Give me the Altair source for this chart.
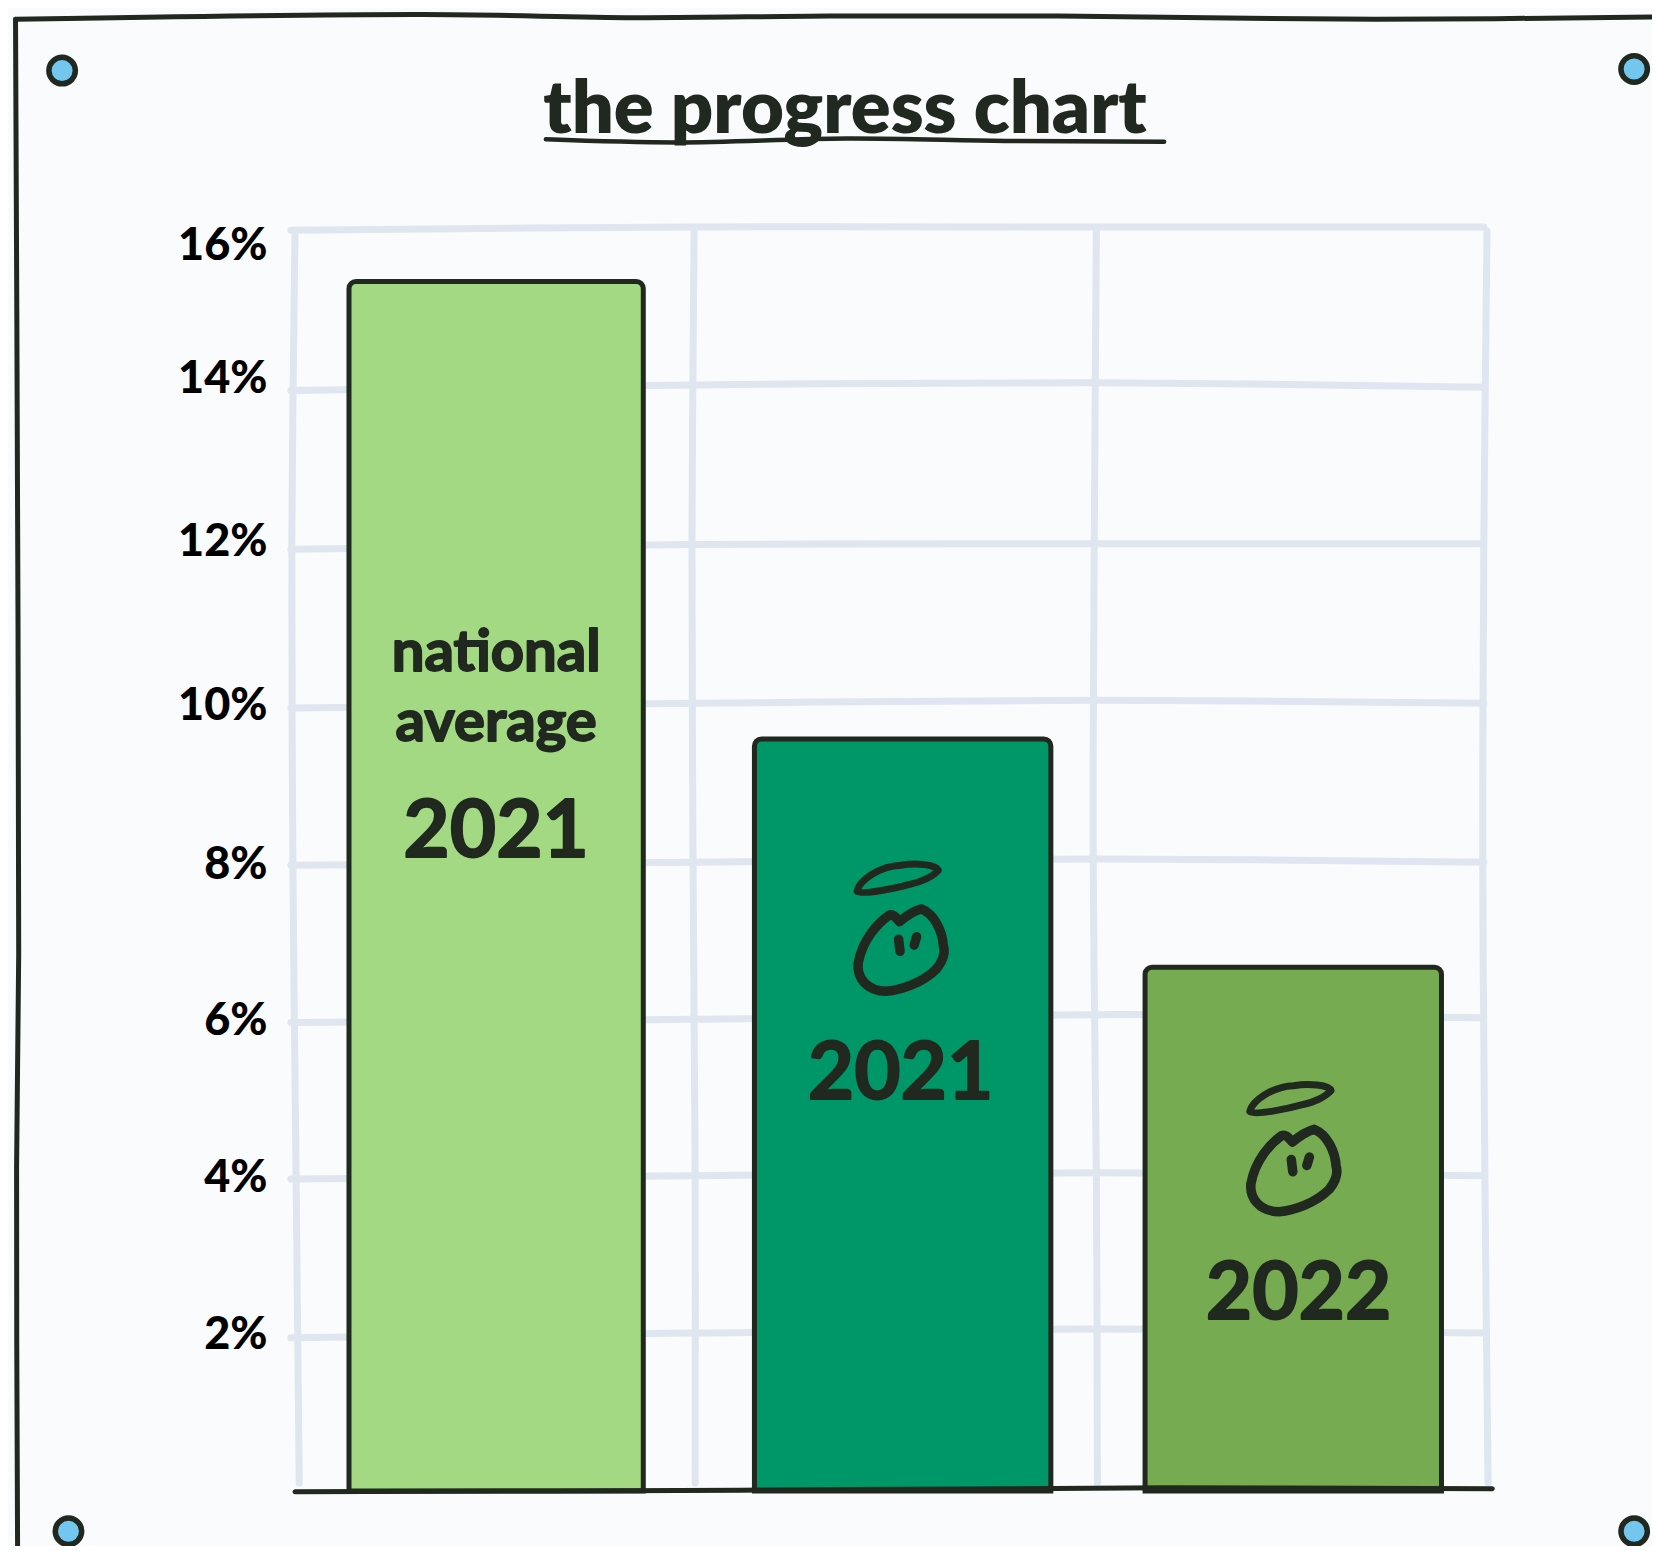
import altair as alt
import pandas as pd

# ---- values ----
bar_names = ["national average 2021", "our 2021", "our 2022"]
bar_values = [15.31, 9.52, 6.63]
bar_start = [330, 713, 1082]
bar_end = [608, 993, 1362]
bar_colors = ["#a3d982", "#009768", "#76ab52"]

tick_places = [15.77, 14.08, 12.02, 9.94, 7.93, 5.96, 3.97, 1.98]

label_text = ["national", "average", "2021", "2021", "2022"]
label_x = [469, 469, 469, 851, 1227]
label_y = [10.6, 9.71, 8.33, 5.27, 2.48]
label_size = [58, 58, 80, 80, 80]

apple_x = [851, 1222]
apple_y = [6.85, 4.06]
halo_x = [849, 1220]
halo_y = [7.76, 4.97]

grid_x_stations = [275, 656, 1036, 1402]
grid_h = {
    16: [15.96, 16.0, 16.0, 16.0],
    14: [13.93, 14.0, 14.03, 13.97],
    12: [11.92, 11.98, 11.99, 11.99],
    10: [9.91, 9.97, 10.01, 9.97],
    8: [7.92, 7.96, 8.0, 7.96],
    6: [5.93, 5.97, 6.03, 5.99],
    4: [3.95, 3.99, 4.03, 3.99],
    2: [1.94, 2.0, 2.05, 2.0],
}
grid_y_stations = [15.95, 12.0, 8.0, 4.0, 0.1]
grid_v = {
    "a": [279, 276, 277, 280, 283],
    "b": [656, 654, 655, 657, 657],
    "c": [1036, 1034, 1033, 1036, 1037],
    "d": [1405, 1402, 1401, 1403, 1406],
}

axis_line_x = [279, 700, 1100, 1410]
axis_line_y = [-0.01, 0.01, 0.04, 0.03]

under_x = [516, 640, 800, 950, 1100]
under_y = [17.11, 17.07, 17.12, 17.09, 17.08]

frame_x = [15, 17, 18, 16, 17, None, 15, 400, 600, 784, 1000, 1300, 1580]
frame_y = [18.63, 12.2, 6.8, 4.1, -0.9, None, 18.63, 18.69, 18.65, 18.67, 18.67, 18.63, 18.66]

pin_x = [59, 1544, 65, 1544]
pin_y = [17.98, 18.0, -0.51, -0.51]

title_text = "the progress chart"
INK = "#20281f"
GRID = "#dfe6ef"
PAPER = "#fafbfd"
FONT = "Lato"

APPLE = ("M -0.02 -0.58 C -0.08 -0.64 -0.14 -0.75 -0.24 -0.71 C -0.45 -0.56 -0.78 -0.23 -0.87 0.28 "
         "C -0.90 0.56 -0.70 0.85 -0.29 0.85 C 0 0.83 0.45 0.68 0.74 0.39 C 0.88 0.21 0.92 0.05 0.88 -0.08 "
         "C 0.86 -0.38 0.70 -0.73 0.43 -0.84 C 0.28 -0.80 0.10 -0.68 -0.02 -0.58 Z "
         "M -0.04 -0.22 L -0.01 0.03 M 0.33 -0.27 L 0.28 -0.10")
HALO = ("M -0.85 0.27 C -0.80 0.05 -0.40 -0.24 0.05 -0.26 C 0.35 -0.31 0.78 -0.28 0.82 -0.16 "
        "C 0.70 -0.02 0.45 0.08 0.27 0.12 C -0.05 0.21 -0.75 0.36 -0.85 0.27 Z")

# ---- tables ----
rows = []
for level, ys in grid_h.items():
    for i, (x, y) in enumerate(zip(grid_x_stations, ys)):
        rows.append({"line": f"h{level}", "i": i, "x": x, "y": y})
for key, xs in grid_v.items():
    for i, (x, y) in enumerate(zip(xs, grid_y_stations)):
        rows.append({"line": f"v{key}", "i": i, "x": x, "y": y})
grid_df = pd.DataFrame(rows)

bars_df = pd.DataFrame({"name": bar_names, "value": bar_values, "x0": bar_start, "x1": bar_end, "base": 0})
labels_df = pd.DataFrame({"t": label_text, "x": label_x, "y": label_y, "s": label_size})
axis_df = pd.DataFrame({"x": axis_line_x, "y": axis_line_y})
under_df = pd.DataFrame({"x": under_x, "y": under_y})
frame_rows = [
    {"line": "l", "i": i, "x": x, "y": y} for i, (x, y) in enumerate(zip(frame_x[:5], frame_y[:5]))
] + [
    {"line": "t", "i": i, "x": x, "y": y} for i, (x, y) in enumerate(zip(frame_x[6:], frame_y[6:]))
]
frame_df = pd.DataFrame(frame_rows)
pins_df = pd.DataFrame({"x": pin_x, "y": pin_y})
apple_df = pd.DataFrame({"x": apple_x, "y": apple_y})
halo_df = pd.DataFrame({"x": halo_x, "y": halo_y})

# ---- shared scales ----
X = alt.Scale(domain=[279, 1405], nice=False, zero=False)
Y = alt.Scale(domain=[0, 16], nice=False, zero=False)
xq = alt.X("x:Q", scale=X, axis=None)
yq = alt.Y("y:Q", scale=Y)

yaxis = alt.Chart(pd.DataFrame({"y": tick_places})).mark_point(opacity=0).encode(
    x=alt.X("y:Q", scale=X, axis=None),
    y=alt.Y("y:Q", scale=Y, title=None, axis=alt.Axis(
        values=tick_places, labelExpr="round(datum.value / 2) * 2 + '%'",
        domain=False, ticks=False, grid=False, labelPadding=28,
        labelFont=FONT, labelFontSize=45, labelFontWeight=900, labelColor="#000000",
        labelBaseline="middle", labelAlign="right")),
)

grid = alt.Chart(grid_df).mark_line(
    color=GRID, strokeWidth=7, interpolate="catmull-rom", strokeCap="round"
).encode(xq, yq, detail="line:N", order="i:Q")

bars = alt.Chart(bars_df).mark_bar(
    stroke=INK, strokeWidth=5, cornerRadiusTopLeft=7, cornerRadiusTopRight=7
).encode(
    x=alt.X("x0:Q", scale=X, axis=None),
    x2="x1:Q",
    y=alt.Y("value:Q", scale=Y),
    y2="base:Q",
    color=alt.Color("name:N", scale=alt.Scale(domain=bar_names, range=bar_colors), legend=None),
)

axis_line = alt.Chart(axis_df).mark_line(
    color=INK, strokeWidth=5, interpolate="catmull-rom", strokeCap="round"
).encode(xq, yq)

frame = alt.Chart(frame_df).mark_line(
    color=INK, strokeWidth=5, interpolate="catmull-rom", strokeCap="round"
).encode(xq, yq, detail="line:N", order="i:Q")

underline = alt.Chart(under_df).mark_line(
    color=INK, strokeWidth=4.5, interpolate="catmull-rom", strokeCap="round"
).encode(xq, yq)

pins = alt.Chart(pins_df).mark_point(
    filled=True, shape="circle", size=700, fill="#73c6ee", stroke=INK, strokeWidth=5.5, opacity=1
).encode(xq, yq)

labels = alt.Chart(labels_df).mark_text(
    font=FONT, fontWeight=700, color=INK, stroke=INK, strokeWidth=1.8, strokeJoin="round",
    align="center", baseline="middle"
).encode(xq, yq, text="t:N", size=alt.Size("s:Q", scale=None, legend=None))

apples = alt.Chart(apple_df).mark_point(
    shape=APPLE, size=9487, filled=False, stroke=INK, strokeWidth=9.5, opacity=1,
    strokeCap="round", strokeJoin="round"
).encode(xq, yq)

halos = alt.Chart(halo_df).mark_point(
    shape=HALO, size=9487, filled=False, stroke=INK, strokeWidth=7, opacity=1,
    strokeCap="round", strokeJoin="round"
).encode(xq, yq)

chart = alt.layer(
    yaxis, frame, grid, bars, axis_line, underline, pins, labels, apples, halos
).properties(
    width=1192,
    height=1264,
    background=PAPER,
    padding={"left": 287, "top": 219, "right": 165, "bottom": 55},
    autosize=alt.AutoSizeParams(type="none"),
    title=alt.TitleParams(
        title_text, font=FONT, fontSize=74, fontWeight=800, color=INK,
        anchor="middle", dx=-46, offset=-219, baseline="bottom",
    ),
).configure_view(stroke=None)

chart.save("out.html", embed_options={"renderer": "svg", "actions": False})
